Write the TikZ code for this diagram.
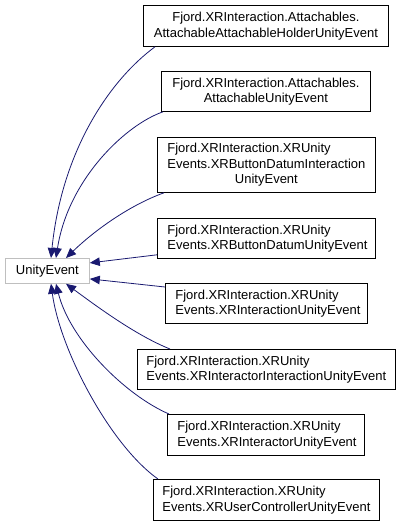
\documentclass[tikz,border=0pt]{standalone}
\usepackage{fontspec}
\setmainfont{Liberation Sans}
\usetikzlibrary{arrows.meta}
\definecolor{edgeblue}{HTML}{191970}
\definecolor{graybd}{HTML}{BFBFBF}
\tikzset{
  cls/.style={draw=black, line width=0.8pt, fill=white, anchor=north west, inner sep=0pt,
    font=\fontsize{13}{15.5}\selectfont},
  lbox/.style={cls, align=left},
  cbox/.style={cls, align=center},
  arr/.style={draw=edgeblue, line width=0.8pt, -{Triangle[length=10pt,width=8.5pt]}}
}
\begin{document}
\begin{tikzpicture}[x=1pt,y=-1pt]
\useasboundingbox (0,0) rectangle (400,525);
\node[cbox, minimum width=245pt, minimum height=41pt] (b1) at (143,5)
  {Fjord.XRInteraction.Attachables.\\AttachableAttachableHolderUnityEvent};
\node[cbox, minimum width=209pt, minimum height=40pt] (b2) at (161,71)
  {Fjord.XRInteraction.Attachables.\\AttachableUnityEvent};
\node[lbox, minimum width=218pt, minimum height=55pt, text width=198pt] (b3) at (157,137)
  {Fjord.XRInteraction.XRUnity\\Events.XRButtonDatumInteraction\\\makebox[\linewidth]{UnityEvent}};
\node[lbox, minimum width=218pt, minimum height=40pt, text width=198pt] (b4) at (157,218)
  {Fjord.XRInteraction.XRUnity\\Events.XRButtonDatumUnityEvent};
\node[lbox, minimum width=202pt, minimum height=40pt, text width=182pt] (b5) at (165,283)
  {Fjord.XRInteraction.XRUnity\\Events.XRInteractionUnityEvent};
\node[lbox, minimum width=258pt, minimum height=40pt, text width=240pt] (b6) at (137,349)
  {Fjord.XRInteraction.XRUnity\\Events.XRInteractorInteractionUnityEvent};
\node[lbox, minimum width=197pt, minimum height=41pt, text width=177pt] (b7) at (167,414)
  {Fjord.XRInteraction.XRUnity\\Events.XRInteractorUnityEvent};
\node[lbox, minimum width=226pt, minimum height=41pt, text width=208pt] (b8) at (153,479)
  {Fjord.XRInteraction.XRUnity\\Events.XRUserControllerUnityEvent};
\node[cls, draw=graybd, minimum width=84pt, minimum height=25pt, align=center] (u) at (5,258) {UnityEvent};

\draw[arr] ([xshift=12pt]b1.south west) .. controls (110,80) and (62,150) .. ([xshift=46pt]u.north west);
\draw[arr] ([xshift=2pt]b2.south west) .. controls (125,125) and (68,180) .. ([xshift=51pt]u.north west);
\draw[arr] ([xshift=7pt]b3.south west) .. controls (130,205) and (95,230) .. ([xshift=61pt]u.north west);
\draw[arr] ([yshift=4pt]b4.south west) -- ([yshift=8pt]u.east);
\draw[arr] ([yshift=-4pt]b5.north west) -- ([yshift=-8pt]u.east);
\draw[arr] ([xshift=33pt]b6.north west) .. controls (135,335) and (95,305) .. ([xshift=61pt]u.south west);
\draw[arr] ([xshift=2pt]b7.north west) .. controls (125,395) and (70,340) .. ([xshift=51pt]u.south west);
\draw[arr] ([xshift=5pt]b8.north west) .. controls (110,445) and (60,350) .. ([xshift=46pt]u.south west);
\end{tikzpicture}
\end{document}
